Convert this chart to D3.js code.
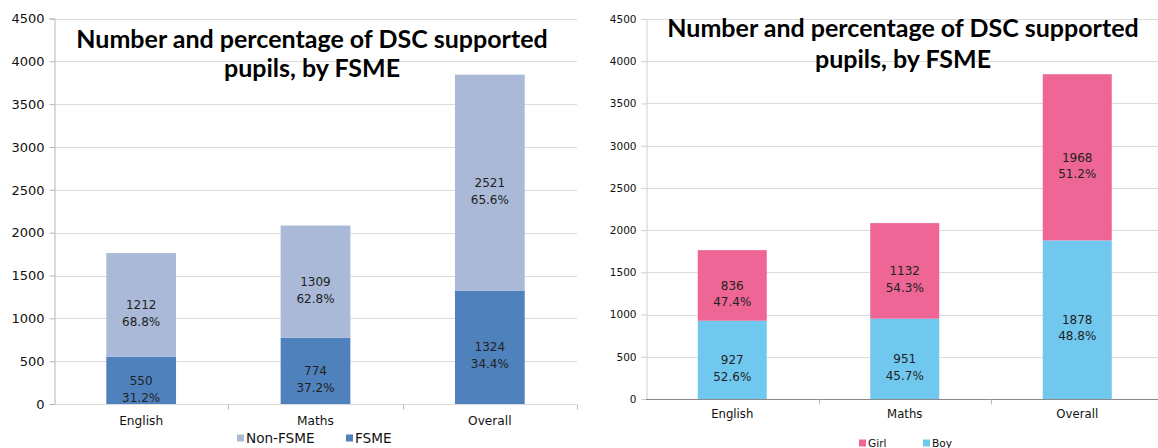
<!DOCTYPE html>
<html><head><meta charset="utf-8">
<script src="https://cdn.jsdelivr.net/npm/d3@7"></script>
<style>
html,body{margin:0;padding:0;background:#fff;overflow:hidden;}
svg{display:block;}
</style></head><body>
<svg id="chart" width="1158" height="448"></svg>
<script>
// Pupil categories shown along the x axis of both panels
const categories = ["English", "Maths", "Overall"];

// Panel 1: pupils by FSME status
const fsmeValues = [550, 774, 1324];
const nonFsmeValues = [1212, 1309, 2521];

// Panel 2: pupils by gender
const boyValues = [927, 951, 1878];
const girlValues = [836, 1132, 1968];

const yTicks = [0, 500, 1000, 1500, 2000, 2500, 3000, 3500, 4000, 4500];
const titleLines = ["Number and percentage of DSC supported", "pupils, by FSME"];

const svg = d3.select("#chart");
const pctFmt = d3.format(".1%");

function drawPanel(o) {
  const g = svg.append("g");
  const x = d3.scaleBand().domain(categories).range(o.xRange)
    .paddingInner(0.6).paddingOuter(0.3);
  const y = d3.scaleLinear().domain([0, 4500]).range(o.yRange);

  // horizontal gridlines
  g.append("g").selectAll("line").data(yTicks).join("line")
    .attr("x1", o.xRange[0]).attr("x2", o.xRange[1])
    .attr("y1", d => Math.round(y(d)) + 0.5).attr("y2", d => Math.round(y(d)) + 0.5)
    .attr("stroke", "#dcdcdc").attr("stroke-width", 1);

  // stacked bars
  const rows = categories.map((c, i) => ({cat: c, bottom: o.bottom.values[i], top: o.top.values[i]}));
  const stacked = d3.stack().keys(["bottom", "top"])(rows);
  const colors = {bottom: o.bottom.color, top: o.top.color};

  const layer = g.append("g").selectAll("g").data(stacked).join("g")
    .attr("fill", d => colors[d.key]);
  layer.selectAll("rect").data(d => d).join("rect")
    .attr("x", d => x(d.data.cat))
    .attr("width", x.bandwidth())
    .attr("y", d => y(d[1]))
    .attr("height", d => y(d[0]) - y(d[1]));

  // value + share labels in each segment
  const lab = g.append("g").attr("font-family", "DejaVu Sans, sans-serif")
    .attr("font-size", o.labelSize).attr("fill", "#222").attr("text-anchor", "middle");
  stacked.forEach(s => {
    s.forEach(d => {
      const v = d[1] - d[0];
      const total = d.data.bottom + d.data.top;
      const cx = x(d.data.cat) + x.bandwidth() / 2;
      const cy = (y(d[0]) + y(d[1])) / 2;
      lab.append("text").attr("x", cx).attr("y", cy).attr("dy", "0.35em").text(v);
      lab.append("text").attr("x", cx).attr("y", cy + o.labelGap).attr("dy", "0.35em").text(pctFmt(v / total));
    });
  });

  // y axis
  const yAxis = g.append("g").attr("transform", `translate(${o.xRange[0] + 0.5},0)`)
    .call(d3.axisLeft(y).tickValues(yTicks).tickSize(5).tickPadding(5).tickFormat(d3.format("d")));
  yAxis.select(".domain").attr("stroke", o.yAxisColor);
  yAxis.selectAll(".tick line").attr("stroke", o.yAxisColor);
  yAxis.selectAll(".tick text").attr("font-family", "DejaVu Sans, sans-serif")
    .attr("font-size", o.tickSize).attr("fill", "#111");

  // x axis
  const base = Math.round(y(0)) + 0.5;
  const xAxis = g.append("g").attr("transform", `translate(0,${base})`)
    .call(d3.axisBottom(x).tickSize(0).tickPadding(o.catPad));
  xAxis.select(".domain").attr("stroke", o.xAxisColor).attr("d", `M${o.xRange[0]},0H${o.xRange[1]}`);
  xAxis.selectAll(".tick text").attr("font-family", "DejaVu Sans, sans-serif")
    .attr("font-size", o.catSize).attr("fill", "#111");
  // category boundary marks
  const step = x.step();
  g.append("g").selectAll("line").data(d3.range(1, categories.length + 1)).join("line")
    .attr("x1", i => Math.round(o.xRange[0] + i * step) + 0.5)
    .attr("x2", i => Math.round(o.xRange[0] + i * step) + 0.5)
    .attr("y1", base).attr("y2", base + 5)
    .attr("stroke", "#bbb");

  // title
  const t = g.append("text").attr("font-family", "Lato, sans-serif").attr("font-weight", "bold")
    .attr("font-size", o.titleSize).attr("fill", "#000").attr("text-anchor", "middle");
  titleLines.forEach((line, i) => {
    t.append("tspan").attr("x", o.titleX).attr("y", o.titleY[i]).text(line);
  });

  // legend
  const leg = g.append("g").attr("font-family", "DejaVu Sans, sans-serif")
    .attr("font-size", o.legendSize).attr("fill", "#111");
  [o.top, o.bottom].forEach((s, i) => {
    const lx = o.legendX[i];
    leg.append("rect").attr("x", lx).attr("y", o.legendY - 3.5).attr("width", 7).attr("height", 7).attr("fill", s.color);
    leg.append("text").attr("x", lx + 9).attr("y", o.legendY).attr("dy", "0.35em").text(s.name);
  });
}

drawPanel({
  xRange: [54, 577], yRange: [404, 18.5],
  bottom: {name: "FSME", values: fsmeValues, color: "#4f81bd"},
  top: {name: "Non-FSME", values: nonFsmeValues, color: "#a9b9d7"},
  labelSize: 12, labelGap: 17, tickSize: 13, catSize: 12.2, catPad: 12,
  yAxisColor: "#b5b5b5", xAxisColor: "none",
  titleSize: 25, titleX: 312, titleY: [48, 77],
  legendSize: 13.6, legendX: [237, 346], legendY: 438
});

drawPanel({
  xRange: [646, 1163.5], yRange: [399, 19],
  bottom: {name: "Boy", values: boyValues, color: "#71c8ef"},
  top: {name: "Girl", values: girlValues, color: "#ed6695"},
  labelSize: 12, labelGap: 16.5, tickSize: 10.5, catSize: 11.7, catPad: 10,
  yAxisColor: "#cfcfcf", xAxisColor: "#8a8a8a",
  titleSize: 25, titleX: 903, titleY: [37, 68],
  legendSize: 10.6, legendX: [859, 923], legendY: 443
});
</script>
</body></html>
